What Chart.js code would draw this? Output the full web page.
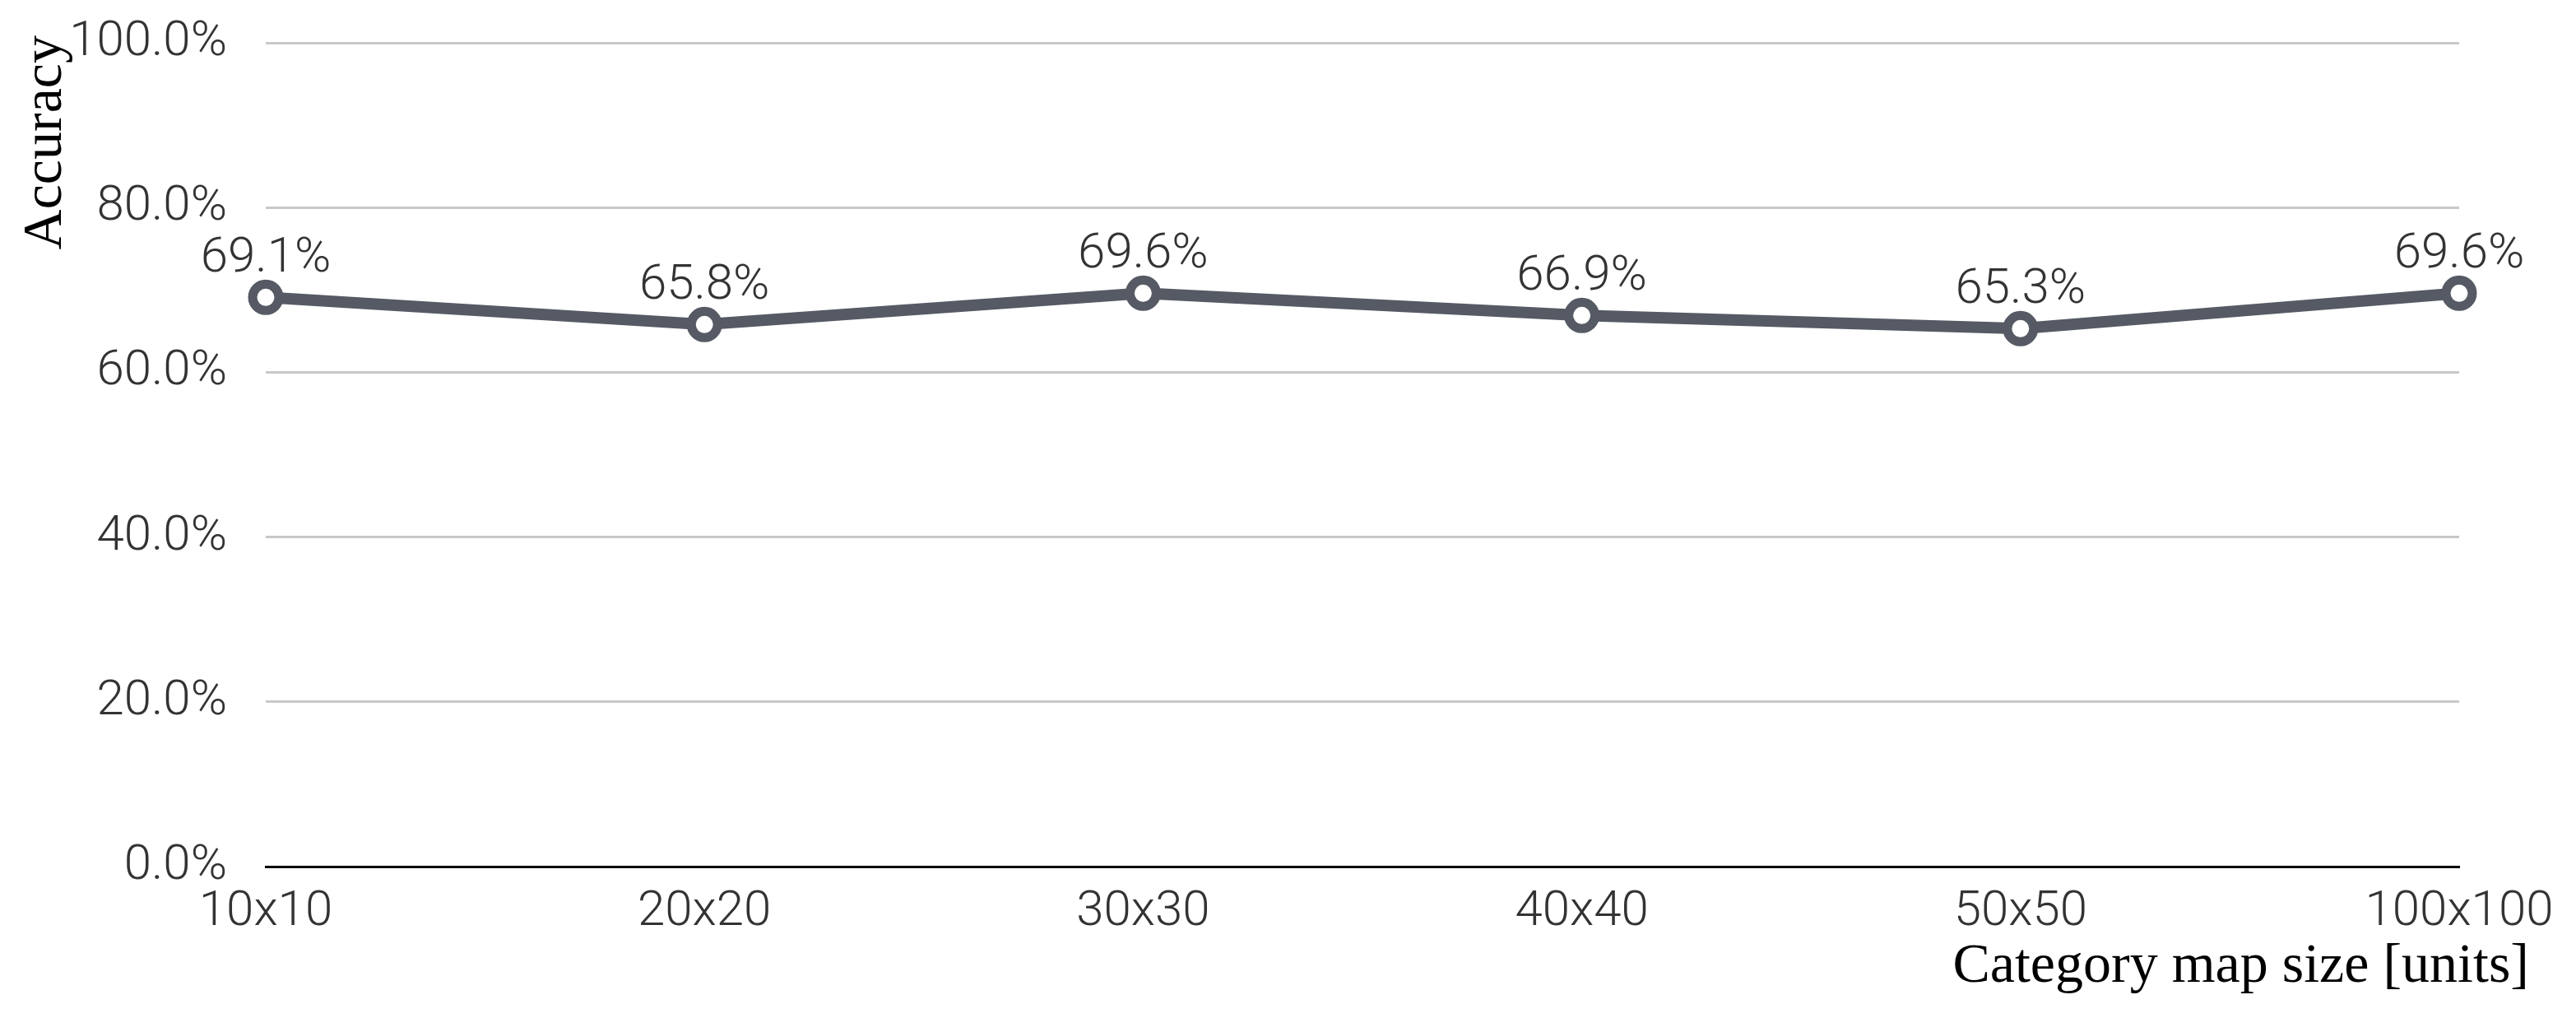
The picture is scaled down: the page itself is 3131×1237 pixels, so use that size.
<!DOCTYPE html>
<html>
<head>
<meta charset="utf-8">
<style>
  html, body { margin: 0; padding: 0; background: #fff; }
  #wrap { width: 3131px; height: 1237px; }
</style>
<script src="https://cdn.jsdelivr.net/npm/chart.js@4/dist/chart.umd.min.js"></script>
</head>
<body>
<div id="wrap"><canvas id="chart"></canvas></div>
<script>
const categories = ['10x10', '20x20', '30x30', '40x40', '50x50', '100x100'];
const accuracy = [69.1, 65.8, 69.6, 66.9, 65.3, 69.6];
const yTicks = [0, 20, 40, 60, 80, 100];

const yTitle = 'Accuracy';
const xTitle = 'Category map size [units]';

const lineColor = '#555a64';
const tickFont = { family: 'Roboto', size: 60, weight: '300' };
const titleFont = '68px "Liberation Serif"';

// value labels above each point
const pointLabels = {
  id: 'pointLabels',
  afterDatasetsDraw(chart) {
    const ctx = chart.ctx;
    const meta = chart.getDatasetMeta(0);
    ctx.save();
    ctx.font = `${tickFont.weight} ${tickFont.size}px ${tickFont.family}`;
    ctx.fillStyle = '#333';
    ctx.textAlign = 'center';
    ctx.textBaseline = 'middle';
    meta.data.forEach((pt, i) => {
      ctx.fillText(accuracy[i].toFixed(1) + '%', pt.x, pt.y - 46);
    });
    ctx.restore();
  }
};

// axis titles sit outside the plot like in the original sheet
const axisTitles = {
  id: 'axisTitles',
  afterDraw(chart) {
    const ctx = chart.ctx;
    const area = chart.chartArea;
    ctx.save();
    ctx.font = titleFont;
    ctx.fillStyle = '#000';
    ctx.textAlign = 'right';
    ctx.textBaseline = 'middle';
    ctx.fillText(xTitle, area.right + 85, 1175);

    ctx.translate(74, area.top - 9);
    ctx.rotate(-Math.PI / 2);
    ctx.textAlign = 'right';
    ctx.textBaseline = 'alphabetic';
    ctx.fillText(yTitle, 0, 0);
    ctx.restore();
  }
};

new Chart(document.getElementById('chart'), {
  type: 'line',
  data: {
    labels: categories,
    datasets: [{
      data: accuracy,
      borderColor: lineColor,
      borderWidth: 14,
      pointRadius: 16,
      pointBorderWidth: 11,
      pointBackgroundColor: '#fff',
      pointBorderColor: lineColor,
      tension: 0
    }]
  },
  options: {
    responsive: true,
    maintainAspectRatio: false,
    animation: false,
    devicePixelRatio: 1,
    layout: { padding: { top: 52, right: 142, left: 0, bottom: 0 } },
    plugins: {
      legend: { display: false },
      tooltip: { enabled: false }
    },
    scales: {
      x: {
        offset: false,
        grid: { display: false, drawTicks: false },
        border: { display: true, color: '#000', width: 3 },
        ticks: { color: '#333', font: tickFont, padding: 20, maxRotation: 0, autoSkip: false },
        afterFit: scale => {
          scale.height = 184;
          scale.paddingLeft = 0;
          scale.paddingRight = 0;
        }
      },
      y: {
        min: 0,
        max: 100,
        afterBuildTicks: scale => { scale.ticks = yTicks.map(v => ({ value: v })); },
        grid: { color: '#c8c8c8', lineWidth: 3, drawTicks: false },
        border: { display: false },
        ticks: {
          color: '#333',
          font: tickFont,
          padding: 47,
          callback: v => v.toFixed(1) + '%'
        },
        afterFit: scale => {
          scale.width = 323;
          scale.paddingTop = 0;
          scale.paddingBottom = 0;
        }
      }
    }
  },
  plugins: [pointLabels, axisTitles]
});
</script>
</body>
</html>
